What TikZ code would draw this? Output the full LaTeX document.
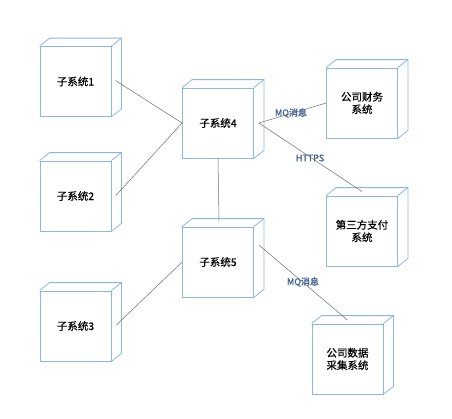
\documentclass[tikz,border=0pt]{standalone}
\usepackage{fontspec}
\newfontfamily\cjk[FakeBold=0.6]{Noto Sans CJK SC}
\usetikzlibrary{calc}
\definecolor{boxblue}{RGB}{140,182,234}
\definecolor{lblblue}{RGB}{61,91,143}
\definecolor{conn}{RGB}{110,110,110}
\tikzset{
  cubebox/.style={draw=boxblue, line width=0.8pt, minimum width=71pt, minimum height=70pt,
    inner sep=0pt, align=center, font=\cjk\fontsize{10.5}{12.5}\selectfont, fill=white},
  cubeedge/.style={draw=boxblue, line width=0.8pt},
  connline/.style={draw=conn, line width=0.5pt},
  lbl/.style={text=lblblue, font=\cjk\fontsize{9}{10}\selectfont, inner sep=0pt}
}
\newcommand{\cubefaces}[1]{%
  \draw[cubeedge] (#1.north west) -- ++(10,-8) -- ($(#1.north east)+(10,-8)$) -- ($(#1.south east)+(10,-8)$) -- (#1.south east);
  \draw[cubeedge] (#1.north east) -- ++(10,-8);
}
\begin{document}
\begin{tikzpicture}[x=1pt,y=-1pt]
\useasboundingbox (0,0) rectangle (452,418);
\fill[white] (0,0) rectangle (452,418);
\node[cubebox] (b1) at (75.5,81.5) {子系统1};
\node[cubebox] (b2) at (75.5,196) {子系统2};
\node[cubebox] (b3) at (75.5,326) {子系统3};
\node[cubebox] (b4) at (218,123) {子系统4};
\node[cubebox] (b5) at (218,262) {子系统5};
\node[cubebox] (fin) at (362,103) {公司财务\\系统};
\node[cubebox] (pay) at (362,231) {第三方支付\\系统};
\node[cubebox] (data) at (347.5,359) {公司数据\\采集系统};
\cubefaces{b1}
\cubefaces{b2}
\cubefaces{b3}
\cubefaces{b4}
\cubefaces{b5}
\cubefaces{fin}
\cubefaces{pay}
\cubefaces{data}
\draw[connline] ($(b1.east)+(4,-1)$) -- (b4.west);
\draw[connline] ($(b2.east)+(4,0)$) -- (b4.west);
\draw[connline] ($(b3.east)+(5,-1)$) -- (b5.west);
\draw[connline] (b4.south) -- ($(b5.north)+(1,-5)$);
\draw[connline] ($(b4.east)+(5,0)$) -- (fin.west);
\draw[connline] ($(b4.east)+(5,0)$) -- ($(pay.north)+(0,-4)$);
\draw[connline] ($(b5.east)+(5,-17)$) -- ($(data.north)+(0,-3.5)$);
\node[lbl] (l1) at (291,113) {MQ消息};
\node[lbl] (l2) at (310,158) {HTTPS};
\node[lbl] (l3) at (303,282) {MQ消息};
\end{tikzpicture}
\end{document}
